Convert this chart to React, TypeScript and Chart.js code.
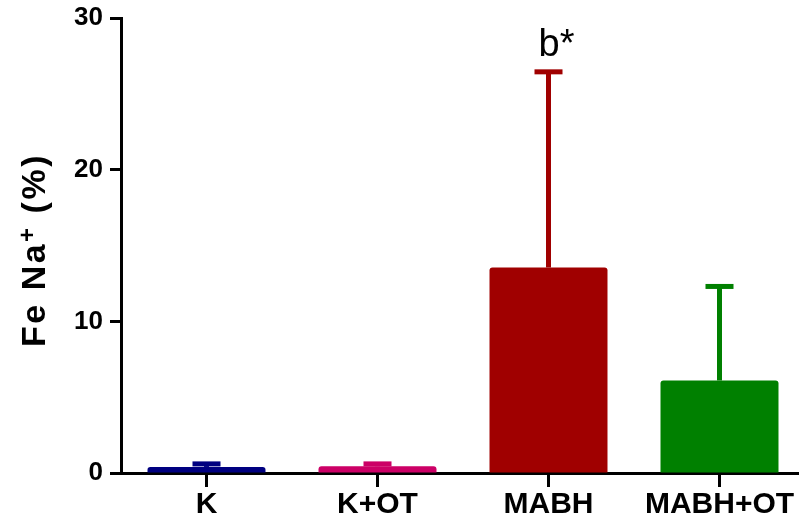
import React, { useEffect, useRef } from "react";
import { Chart, registerables } from "chart.js";

Chart.register(...registerables);

const categories = ["K", "K+OT", "MABH", "MABH+OT"];
const means = [0.4, 0.45, 13.55, 6.1];
const errUpper = [0.6, 0.6, 26.45, 12.3];
const colors = ["#000080", "#CC0066", "#A00000", "#008000"];
const yTicks = [0, 10, 20, 30];
const annotations = ["", "", "b*", ""];

const FONT = "Arial, 'Liberation Sans', sans-serif";

const errorBarPlugin = {
  id: "errorBars",
  afterDatasetsDraw(chart: any) {
    const ctx = chart.ctx;
    const meta = chart.getDatasetMeta(0);
    const y = chart.scales.y;
    meta.data.forEach((bar: any, i: number) => {
      const x = bar.x;
      const top = y.getPixelForValue(errUpper[i]);
      const base = bar.y;
      ctx.save();
      ctx.strokeStyle = colors[i];
      ctx.fillStyle = colors[i];
      ctx.lineWidth = 5;
      ctx.beginPath();
      ctx.moveTo(x, base);
      ctx.lineTo(x, top);
      ctx.stroke();
      ctx.fillRect(x - 14, top - 2.5, 28, 5);
      if (annotations[i]) {
        ctx.fillStyle = "#000";
        ctx.font = `38px ${FONT}`;
        ctx.textAlign = "center";
        ctx.textBaseline = "alphabetic";
        ctx.fillText(annotations[i], x + 8, top - 16);
      }
      ctx.restore();
    });
  },
  afterDraw(chart: any) {
    const ctx = chart.ctx;
    const cy = 250;
    ctx.save();
    ctx.translate(45, cy);
    ctx.rotate(-Math.PI / 2);
    ctx.fillStyle = "#000";
    ctx.textBaseline = "alphabetic";
    try {
      (ctx as any).letterSpacing = "2.5px";
    } catch (e) {}
    const big = `bold 34px ${FONT}`;
    const small = `bold 24px ${FONT}`;
    const p1 = "Fe Na";
    const p2 = "+";
    const p3 = " (%)";
    ctx.font = big;
    const w1 = ctx.measureText(p1).width;
    const w3 = ctx.measureText(p3).width;
    ctx.font = small;
    const w2 = ctx.measureText(p2).width;
    const total = w1 + w2 + w3;
    let x = -total / 2;
    ctx.font = big;
    ctx.fillText(p1, x, 0);
    x += w1;
    ctx.font = small;
    ctx.fillText(p2, x, -10);
    x += w2;
    ctx.font = big;
    ctx.fillText(p3, x, 0);
    ctx.restore();
  },
};

export default function App() {
  const ref = useRef<HTMLCanvasElement>(null);
  useEffect(() => {
    if (!ref.current) return;
    const chart = new Chart(ref.current, {
      type: "bar",
      data: {
        labels: categories,
        datasets: [
          {
            data: means,
            backgroundColor: colors,
            borderWidth: 0,
            borderRadius: { topLeft: 3, topRight: 3 },
            borderSkipped: "bottom",
            categoryPercentage: 0.69,
            barPercentage: 1,
          },
        ],
      },
      options: {
        responsive: false,
        animation: false,
        devicePixelRatio: 1,
        layout: { padding: { top: 18, right: 0, left: 0, bottom: 0 } },
        plugins: { legend: { display: false }, tooltip: { enabled: false } },
        scales: {
          x: {
            offset: true,
            grid: {
              offset: false,
              drawOnChartArea: false,
              drawTicks: true,
              tickLength: 14,
              tickWidth: 3,
              tickColor: "#000",
            },
            border: { display: true, color: "#000", width: 3 },
            ticks: {
              color: "#000",
              font: { family: FONT, size: 30, weight: "bold" },
              padding: 0,
            },
            afterFit(scale: any) {
              scale.height = 56;
              scale.paddingLeft = 0;
              scale.paddingRight = 0;
            },
          },
          y: {
            min: 0,
            max: 30,
            afterBuildTicks(scale: any) {
              scale.ticks = yTicks.map((v) => ({ value: v }));
            },
            grid: {
              drawOnChartArea: false,
              drawTicks: true,
              tickLength: 11,
              tickWidth: 3,
              tickColor: "#000",
            },
            border: { display: true, color: "#000", width: 3 },
            ticks: {
              color: "#000",
              font: { family: FONT, size: 26, weight: "bold" },
              padding: 7,
            },
            afterFit(scale: any) {
              scale.width = 121;
              scale.paddingTop = 0;
              scale.paddingBottom = 0;
            },
          },
        },
      },
      plugins: [errorBarPlugin],
    });
    return () => chart.destroy();
  }, []);
  return (
    <div style={{ position: "absolute", left: 0, top: 0, width: 799, height: 529, overflow: "hidden", background: "#fff" }}>
      <canvas ref={ref} width={805} height={529} style={{ display: "block" }} />
    </div>
  );
}
